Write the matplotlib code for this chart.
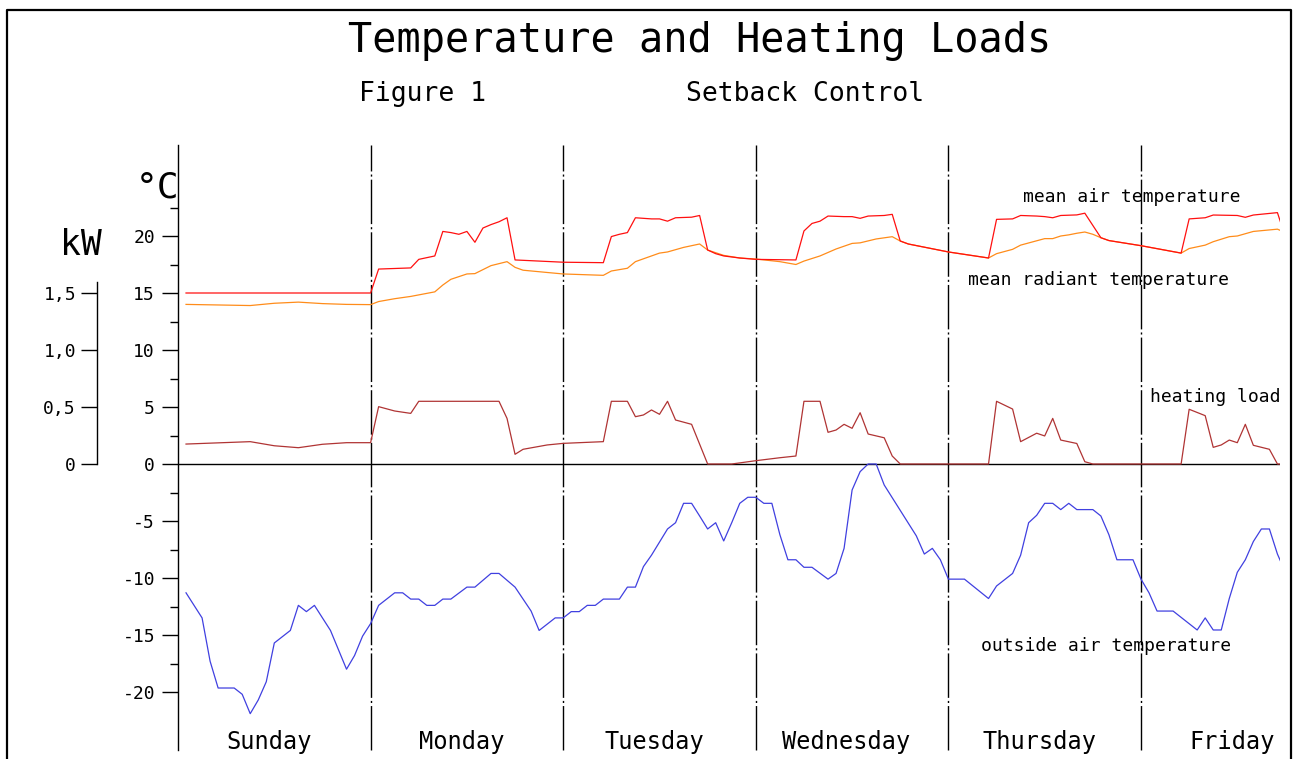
import matplotlib
matplotlib.use("Agg")
import matplotlib.pyplot as plt
from matplotlib.lines import Line2D
from matplotlib.ticker import FixedLocator, FuncFormatter

plt.rcParams["axes.unicode_minus"] = False
FONT = "DejaVu Sans Mono"

# ---------------- data ----------------
days = ["Sunday", "Monday", "Tuesday", "Wednesday", "Thursday", "Friday"]

air_hours = [1, 24, 25, 29, 30, 32, 33, 34, 35, 36, 37, 38, 39, 40, 41, 42, 48, 53, 54, 55,
             56, 57, 58, 59, 60, 61, 62, 64, 65, 66, 67, 68, 70, 72, 77, 78, 79, 80, 81, 83,
             84, 85, 86, 88, 89, 90, 91, 96, 101, 102, 104, 105, 107, 108, 109, 110, 112, 113,
             115, 116, 120, 125, 126, 128, 129, 132, 133, 134, 137, 138]
air_temp = [15.0, 15.0, 17.1, 17.2, 17.95, 18.25, 20.4, 20.3, 20.15, 20.4, 19.45, 20.7, 21.0,
            21.25, 21.6, 17.9, 17.7, 17.66, 19.95, 20.15, 20.3, 21.6, 21.55, 21.5, 21.5, 21.3,
            21.6, 21.65, 21.8, 18.77, 18.45, 18.25, 18.07, 17.95, 17.9, 20.44, 21.1, 21.3,
            21.75, 21.7, 21.7, 21.55, 21.75, 21.8, 21.9, 19.56, 19.3, 18.6, 18.07, 21.46, 21.5,
            21.8, 21.75, 21.7, 21.6, 21.8, 21.85, 22.0, 19.85, 19.6, 19.15, 18.5, 21.5, 21.6,
            21.84, 21.8, 21.64, 21.84, 22.05, 19.9]

rad_hours = [1, 5, 9, 12, 15, 18, 21, 24, 25, 27, 29, 32, 33, 34, 36, 37, 39, 41, 42, 43, 46,
             48, 53, 54, 56, 57, 59, 60, 61, 63, 65, 66, 68, 70, 72, 75, 77, 78, 80, 82, 84, 85,
             87, 89, 90, 91, 96, 101, 102, 104, 105, 108, 109, 110, 111, 112, 113, 114, 115,
             116, 120, 125, 126, 128, 129, 131, 132, 134, 137, 138]
rad_temp = [14.0, 13.95, 13.9, 14.1, 14.2, 14.07, 14.0, 13.98, 14.25, 14.5, 14.7, 15.1, 15.7,
            16.2, 16.67, 16.7, 17.4, 17.75, 17.25, 17.0, 16.8, 16.67, 16.55, 16.93, 17.17,
            17.75, 18.25, 18.5, 18.6, 19.0, 19.3, 18.77, 18.3, 18.07, 17.98, 17.75, 17.5, 17.8,
            18.25, 18.86, 19.35, 19.4, 19.74, 19.94, 19.56, 19.3, 18.6, 18.07, 18.45, 18.83,
            19.2, 19.77, 19.77, 20.0, 20.1, 20.24, 20.35, 20.15, 19.85, 19.6, 19.15, 18.5,
            18.9, 19.2, 19.5, 19.94, 20.0, 20.4, 20.6, 20.3]

load_hours = [1, 9, 12, 15, 18, 21, 24, 25, 27, 29, 30, 40, 41, 42, 43, 46, 48, 53, 54, 56,
              57, 58, 59, 60, 61, 62, 64, 66, 69, 72, 75, 77, 78, 80, 81, 82, 83, 84, 85, 86,
              88, 89, 90, 101, 102, 104, 105, 107, 108, 109, 110, 112, 113, 114, 125, 126, 128,
              129, 130, 131, 132, 133, 134, 136, 137, 138]
load_kw = [0.175, 0.196, 0.16, 0.143, 0.173, 0.187, 0.187, 0.503, 0.465, 0.444, 0.55, 0.55,
           0.40, 0.085, 0.129, 0.167, 0.181, 0.196, 0.55, 0.55, 0.415, 0.43, 0.474, 0.436,
           0.55, 0.386, 0.348, 0.0, 0.0, 0.029, 0.055, 0.07, 0.55, 0.55, 0.278, 0.298, 0.348,
           0.313, 0.45, 0.263, 0.23, 0.07, 0.0, 0.0, 0.55, 0.482, 0.196, 0.27, 0.246, 0.40,
           0.21, 0.18, 0.02, 0.0, 0.0, 0.48, 0.424, 0.146, 0.167, 0.21, 0.187, 0.348, 0.164,
           0.129, 0.0, 0.0]

out_hours = [1, 3, 4, 5, 7, 8, 9, 10, 11, 12, 14, 15, 16, 17, 19, 21, 22, 23, 24, 25, 27, 28,
             29, 30, 31, 32, 33, 34, 36, 37, 39, 40, 42, 44, 45, 47, 48, 49, 50, 51, 52, 53,
             55, 56, 57, 58, 59, 61, 62, 63, 64, 65, 66, 67, 68, 69, 70, 71, 72, 73, 74, 75,
             76, 77, 78, 79, 81, 82, 83, 84, 85, 86, 87, 88, 92, 93, 94, 95, 96, 98, 101, 102,
             104, 105, 106, 107, 108, 109, 110, 111, 112, 114, 115, 116, 117, 119, 120, 121,
             122, 124, 127, 128, 129, 130, 131, 132, 133, 134, 135, 136, 137, 138]
out_temp = [-11.3, -13.5, -17.3, -19.65, -19.65, -20.2, -21.9, -20.7, -19.1, -15.7, -14.6,
            -12.4, -12.95, -12.4, -14.6, -18.0, -16.8, -15.1, -14.0, -12.4, -11.3, -11.3,
            -11.85, -11.85, -12.4, -12.4, -11.85, -11.85, -10.8, -10.8, -9.6, -9.6, -10.8,
            -12.9, -14.6, -13.5, -13.5, -12.95, -12.95, -12.4, -12.4, -11.85, -11.85, -10.8,
            -10.8, -9.0, -8.0, -5.7, -5.15, -3.45, -3.45, -4.56, -5.7, -5.15, -6.75, -5.15,
            -3.45, -2.92, -2.92, -3.45, -3.45, -6.2, -8.4, -8.4, -9.06, -9.06, -10.1, -9.6,
            -7.4, -2.28, -0.67, 0.0, 0.0, -1.84, -6.3, -7.9, -7.4, -8.4, -10.1, -10.1, -11.8,
            -10.7, -9.6, -8.0, -5.15, -4.5, -3.45, -3.45, -4.0, -3.45, -4.0, -4.0, -4.56,
            -6.2, -8.4, -8.4, -10.1, -11.3, -12.9, -12.9, -14.56, -13.5, -14.56, -14.56,
            -11.8, -9.5, -8.4, -6.8, -5.7, -5.7, -7.9, -9.5]

temp_major = [-20, -15, -10, -5, 0, 5, 10, 15, 20]
temp_minor = [-17.5, -12.5, -7.5, -2.5, 2.5, 7.5, 12.5, 17.5, 22.5]
kw_ticks = [0.0, 0.5, 1.0, 1.5]

# ---------------- layout (pixels) ----------------
W, H, DPI = 1294, 759, 100
PX_PER_HOUR = 192.6 / 24
PX_PER_DEG = 11.4
ZERO_PY = 464
AX_L, AX_R, AX_T, AX_B = 178, 1280, 145, 759
PT = 72 / DPI  # points per pixel


def fx(px):
    return px / W


def fy(py):
    return 1 - py / H


fig = plt.figure(figsize=(W / DPI, H / DPI), dpi=DPI)
fig.patch.set_facecolor("white")

ax = fig.add_axes([fx(AX_L), fy(AX_B), (AX_R - AX_L) / W, (AX_B - AX_T) / H])
ax.patch.set_visible(False)
ax.set_xlim(0, (AX_R - AX_L) / PX_PER_HOUR)
ymin = (ZERO_PY - AX_B) / PX_PER_DEG
ymax = (ZERO_PY - AX_T) / PX_PER_DEG
ax.set_ylim(ymin, ymax)
axis_bottom = (ZERO_PY - 750) / PX_PER_DEG

for s in ["top", "right", "bottom"]:
    ax.spines[s].set_visible(False)
ax.spines["left"].set_bounds(axis_bottom, ymax)
ax.spines["left"].set_linewidth(1.0)
ax.set_xticks([])
ax.yaxis.set_major_locator(FixedLocator(temp_major))
ax.yaxis.set_minor_locator(FixedLocator(temp_minor))
ax.yaxis.set_major_formatter(FuncFormatter(lambda v, p: f"{int(round(v))}"))
ax.tick_params(axis="y", which="major", length=16 * PT, width=1.0, pad=7 * PT,
               labelsize=13, direction="out")
ax.tick_params(axis="y", which="minor", length=8 * PT, width=1.0, direction="out")
for lab in ax.get_yticklabels():
    lab.set_fontfamily(FONT)

ax.axhline(0, color="black", lw=1.0, zorder=1)
ax.vlines([24 * i for i in range(1, len(days))], axis_bottom, ymax, colors="black",
          linewidth=1.0, linestyles=[(0, (32, 2.2, 1.5, 2.2))], zorder=1)

ax.plot(out_hours, out_temp, color="#4040e0", lw=0.9, zorder=3)
ax.plot(rad_hours, rad_temp, color="#ff8c1a", lw=0.9, zorder=3)
ax.plot(air_hours, air_temp, color="#ff1010", lw=0.9, zorder=4)

# kW axis
ax2 = ax.twinx()
ax2.set_ylim(ymin / 10, ymax / 10)
for s in ["top", "right", "bottom"]:
    ax2.spines[s].set_visible(False)
ax2.spines["left"].set_visible(True)
ax2.spines["left"].set_position(("outward", (AX_L - 97) * PT))
ax2.spines["left"].set_bounds(0, 1.6)
ax2.spines["left"].set_linewidth(1.0)
ax2.yaxis.tick_left()
ax2.yaxis.set_major_locator(FixedLocator(kw_ticks))
ax2.yaxis.set_major_formatter(
    FuncFormatter(lambda v, p: "0" if v == 0 else f"{v:.1f}".replace(".", ",")))
ax2.tick_params(axis="y", which="major", length=16 * PT, width=1.0, pad=5 * PT,
                labelsize=13, direction="out")
for lab in ax2.get_yticklabels():
    lab.set_fontfamily(FONT)
ax2.plot(load_hours, load_kw, color="#b03434", lw=0.9, zorder=3)

# axis unit labels
fig.text(fx(136), fy(197), "°C", fontsize=26, family=FONT, ha="left", va="baseline")
fig.text(fx(60), fy(255), "kW", fontsize=25, family=FONT, ha="left", va="baseline")


# series labels
def hx(px):
    return (px - AX_L) / PX_PER_HOUR


def ty(py):
    return (ZERO_PY - py) / PX_PER_DEG


label_kw = dict(fontsize=13, family=FONT, ha="left", va="baseline", clip_on=True)
ax.text(hx(1023), ty(202), "mean air temperature", **label_kw)
ax.text(hx(968), ty(285), "mean radiant temperature", **label_kw)
ax.text(hx(1150), ty(402), "heating load", **label_kw)
ax.text(hx(981), ty(651), "outside air temperature", **label_kw)

for i, d in enumerate(days):
    ax.text(24 * i + 12 - 0.7, ty(749), d, fontsize=17, family=FONT, ha="center",
            va="baseline", clip_on=True)

# titles
fig.text(fx(700), fy(52), "Temperature and Heating Loads", fontsize=29, family=FONT,
         ha="center", va="baseline")
fig.text(fx(422), fy(101), "Figure 1", fontsize=19, family=FONT, ha="center", va="baseline")
fig.text(fx(805), fy(101), "Setback Control", fontsize=19, family=FONT, ha="center",
         va="baseline")

# outer frame
fig.add_artist(Line2D([fx(7), fx(7), fx(1291), fx(1291)], [0, fy(10), fy(10), 0],
                      transform=fig.transFigure, color="black", lw=1.6))

fig.savefig("out.png", dpi=DPI)
